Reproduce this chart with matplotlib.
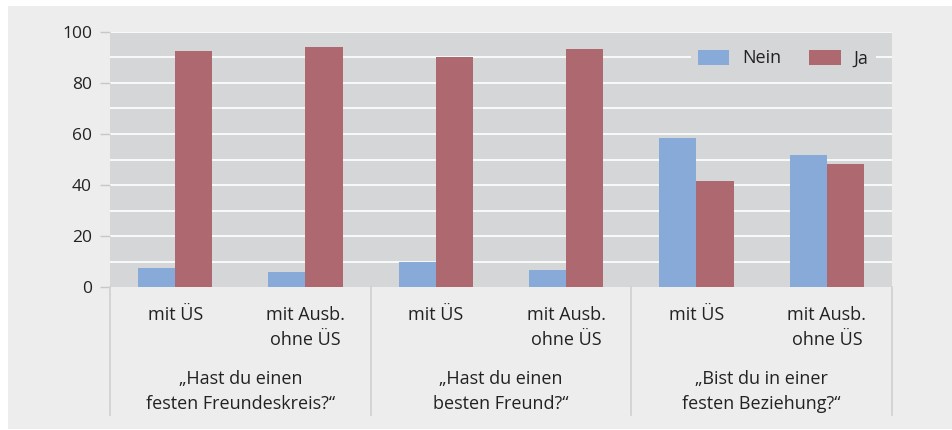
import matplotlib
matplotlib.use("Agg")
import matplotlib.pyplot as plt
from matplotlib.patches import Rectangle
from matplotlib.lines import Line2D
import numpy as np

plt.rcParams['font.family'] = ['Open Sans', 'DejaVu Sans']

categories = ["mit ÜS", "mit Ausb.\nohne ÜS", "mit ÜS", "mit Ausb.\nohne ÜS", "mit ÜS", "mit Ausb.\nohne ÜS"]
groups = ["„Hast du einen\nfesten Freundeskreis?“", "„Hast du einen\nbesten Freund?“", "„Bist du in einer\nfesten Beziehung?“"]
nein = [7.6, 5.7, 10.0, 6.6, 58.5, 51.6]
ja = [92.4, 94.3, 90.0, 93.4, 41.5, 48.4]
yticks = [0, 20, 40, 60, 80, 100]

W, H = 953, 430
fig = plt.figure(figsize=(W/100, H/100), dpi=100)
fig.patch.set_facecolor('white')
fig.patches.append(Rectangle((8/W, 1/H), 1 - 8/W, (H - 7)/H, transform=fig.transFigure,
                             facecolor='#ededed', edgecolor='none', zorder=-5))

ax = fig.add_axes([110/W, (H-287)/H, (892-110)/W, (287-32)/H])
ax.set_zorder(1)
ax.set_facecolor('#d5d6d8')
x = np.arange(len(categories))
bw = 0.285
c_nein = '#88aad8'
c_ja = '#ad6870'
ax.bar(x - bw/2, nein, bw, color=c_nein, label='Nein', zorder=3)
ax.bar(x + bw/2, ja, bw, color=c_ja, label='Ja', zorder=3)
ax.set_xlim(-0.5, len(categories) - 0.5)
ax.set_ylim(0, 100)
for v in range(10, 101, 10):
    ax.axhline(v, color='white', lw=1.2, zorder=1)
for s in ax.spines.values():
    s.set_visible(False)
ax.set_xticks([])
ax.set_yticks(yticks)
ax.tick_params(axis='y', length=7.5, width=1, color='#c8c8c8', pad=5.5,
               labelsize=12.5, labelcolor='#222222')

txtc = '#222222'
fs = 13
ls = 1.5
for i, c in enumerate(categories):
    ax.annotate(c, xy=(i, 0), xycoords='data', xytext=(0, -19), textcoords='offset pixels',
                ha='center', va='top', fontsize=fs, color=txtc, linespacing=ls)
for g, name in enumerate(groups):
    ax.annotate(name, xy=(2*g + 0.5, 0), xycoords='data', xytext=(0, -83), textcoords='offset pixels',
                ha='center', va='top', fontsize=fs, color=txtc, linespacing=ls)
for b in [-0.5, 1.5, 3.5, 5.5]:
    ax.add_line(Line2D([b, b], [0, -(415-287)/255*100], color='#d0d0d0', lw=1.2,
                       clip_on=False, zorder=2))

leg = ax.legend(loc='upper right', bbox_to_anchor=(0.979, 0.96), ncol=2, frameon=True,
                fontsize=13, handlelength=1.75, handleheight=0.9, handletextpad=0.7,
                columnspacing=1.55, borderaxespad=0, borderpad=0.4)
leg.get_frame().set_facecolor('#d5d6d8')
leg.get_frame().set_edgecolor('none')
leg.get_frame().set_alpha(1)
for t in leg.get_texts():
    t.set_color(txtc)
leg.set_zorder(5)

fig.savefig('out.png', dpi=100)
